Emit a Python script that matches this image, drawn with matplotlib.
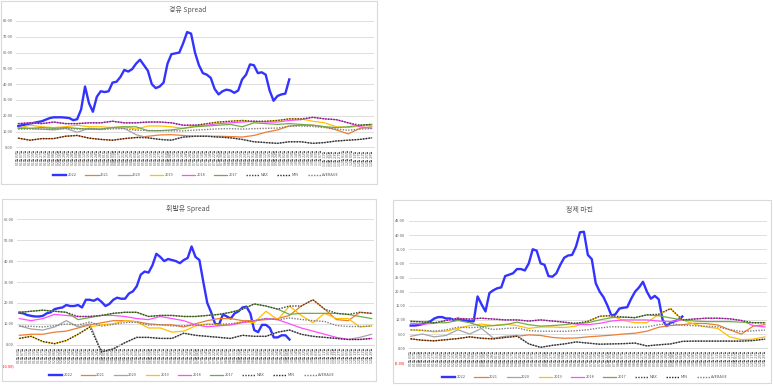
import numpy as np
import pandas as pd
import matplotlib
import matplotlib.pyplot as plt
from matplotlib.patches import Rectangle

matplotlib.use("Agg")
plt.rcParams['font.family'] = ['Noto Sans CJK KR', 'DejaVu Sans']

W, H = 773, 388

# category axis (dates, every 4 days)
dates = pd.date_range('2022-01-03', periods=91, freq='4D')
date_labels = [d.strftime('%m월 %d일') for d in dates]

years = ['2022', '2021', '2020', '2019', '2018', '2017']
year_colors = ['#3333FF', '#ED7D31', '#A5A5A5', '#FFC000', '#FF4DFF', '#70AD47']
stat_names = ['MAX', 'MIN', 'AVERAGE']
stat_colors = ['#404040', '#262626', '#7F7F7F']

# ---- 경유 Spread ----
diesel_2022 = [13.5, 14, 14.5, 15, 15.5, 16, 16.5, 17.5, 18.5, 19,
               19, 19, 18.8, 18.5, 17.2, 17.8, 24, 38.5, 28, 22.5,
               32, 35.5, 35, 35.5, 41, 41.5, 44.5, 49, 48, 49.5,
               53, 55.5, 52, 48.5, 40, 37.5, 38.5, 41, 53, 59,
               59.5, 60, 66, 73, 72, 60, 52, 47, 46, 44,
               37, 33.5, 35.5, 36.5, 36, 34.5, 36, 43, 46, 52.5,
               52, 47, 47.5, 46, 36, 29.5, 32.5, 33.5, 34, 43]
diesel_2021 = [5.8, 4.5, 5.5, 5.5, 7, 7.5, 5.8, 5, 4.5, 5.5, 6.2, 7, 7.8, 8, 7.5, 7,
               7, 7, 6.8, 6.5, 7.5, 9.5, 11, 13.5, 14, 14, 13, 11, 8.5, 12, 13]
diesel_2020 = [12.5, 12, 11.5, 11, 12, 9.5, 12, 11.5, 12.5, 12, 8, 6, 5, 4.5, 6.5, 7,
               7, 6.5, 6, 5, 3.5, 3, 2.5, 3.5, 3.5, 2.5, 3, 4, 4.5, 5, 6]
diesel_2019 = [12, 14, 13, 12.5, 13, 14, 13, 13, 12.5, 13, 11.5, 13.5, 13.5, 13, 12, 13.5,
               15, 16, 16.5, 17, 16, 16.5, 17, 18, 18, 16.5, 15.5, 13, 12.5, 13.5, 14]
diesel_2018 = [15, 15.5, 15, 16, 15, 15, 15.5, 15.5, 16.5, 15.5, 15.5, 16, 16, 15.5, 14, 14,
               14, 15, 15.5, 16, 16.5, 16, 16, 17, 17.5, 19, 18, 17.5, 15.5, 13, 12]
diesel_2017 = [12, 12, 12.5, 12, 12.5, 12, 11.5, 11.5, 12.5, 13, 13, 10.5, 10.5, 11, 12, 13,
               13.5, 14, 14.5, 13, 15.5, 15, 14.5, 15, 14.5, 14, 13, 12.5, 13, 14, 14.5]

# ---- 휘발유 Spread ----
gasoline_2022 = [15.3, 15, 14.2, 13.8, 13.5, 13.5, 13.8, 15, 15.5, 17,
                 17.5, 17.8, 19, 18.5, 18.5, 19, 17.8, 21.5, 21.5, 21,
                 22, 20.5, 18.5, 19.5, 21.5, 22.5, 22, 22, 24.5, 25.5,
                 28, 33.5, 35, 34.5, 38, 43.5, 42, 40, 41, 40.5,
                 40, 39, 40.5, 41.5, 47, 42, 40.5, 30, 20, 15.5,
                 10, 9.5, 14.5, 13.5, 12.5, 15, 16, 17.8, 18.2, 15,
                 7, 6, 9.5, 9.5, 8, 3.5, 3.5, 4.5, 4.5, 2.5]
gasoline_2021 = [4.5, 5, 5, 6, 6.5, 8, 9.5, 10.5, 11.5, 11.5, 11, 10, 9.5, 9.5, 8.5, 10,
                 11.5, 12.5, 12.5, 11.5, 11.5, 12, 12.5, 14, 18.5, 21.5, 17, 12, 11.5, 15.5, 15]
gasoline_2020 = [9, 7.5, 7, 8.5, 11.5, 8.5, 10, -3.5, -2, 1, 3.5, 3.5, 3, 3, 5.5, 4.5,
                 4, 3.5, 3, 4.5, 4, 4, 6, 7, 5, 4, 3.5, 3, 2.5, 3.5, 5]
gasoline_2019 = [3, 4, 1.5, 0.5, 2, 5, 8.5, 9.5, 10, 11.5, 11, 8, 8, 6, 6.5, 9,
                 10, 9.5, 9.5, 11, 10.5, 16, 12, 18.5, 14, 10.5, 15, 12.5, 12.5, 8.5, 9]
gasoline_2018 = [12.5, 11.5, 12.5, 14.5, 14, 13.5, 13.5, 14, 14, 13.5, 12.5, 12, 13.5, 12.5, 11.5, 9.5,
                 8.6, 9, 9.5, 10.5, 11.5, 12.5, 12, 10, 8, 6.5, 5, 3.5, 2.5, 2.5, 3]
gasoline_2017 = [15.5, 16, 16.5, 16, 15.5, 12, 13, 14, 15, 15.5, 15.5, 13.5, 14, 14, 13.5, 13.5,
                 14, 14.5, 15.5, 17, 19.5, 18.5, 17, 14.5, 15, 15, 15, 15, 14.5, 13.5, 12.5]

# ---- 정제 마진 ----
margin_2022 = [8, 8, 8.2, 8.5, 9, 9.5, 10.5, 11, 11, 10.5,
               10.5, 10, 10.5, 10, 9.8, 9.5, 9.5, 18.3, 15.5, 13,
               19.5, 20.5, 21.2, 21.5, 25.5, 26, 26.5, 28, 28, 27.5,
               30, 35, 34.5, 30, 29.5, 25.5, 25.3, 26.5, 29.5, 32,
               32.8, 33, 36, 41, 41.2, 33, 31.5, 23, 20, 18,
               15, 11.5, 12, 14, 14.3, 14.5, 17.5, 20, 21.5, 23.5,
               20, 17.5, 18.5, 17.3, 10, 7.8, 9, 9.5, 10, 11.2]
margin_2021 = [3.3, 2.8, 2.6, 3, 3.4, 4, 3.5, 3.3, 3.8, 4.2, 4.7, 4.5, 3.8, 3.5, 3.6, 4,
               4.3, 4.6, 5, 5.3, 6, 7.4, 8, 8.3, 8.8, 8.7, 8.2, 6.5, 5, 7.8, 8.3]
margin_2020 = [4.2, 5, 4, 4.5, 6.5, 5, 7, 3.5, 4.2, 4.5, 1.5, 0.3, 1, 1.5, 2.2, 1.8,
               1.4, 1.5, 1.6, 1.8, 0.8, 1.2, 1.5, 2.4, 2.5, 2.5, 2.5, 2.5, 2.5, 2.7, 3.2]
margin_2019 = [6.5, 6.2, 5.8, 6, 7, 8, 8.5, 8, 8.5, 8, 7, 7.5, 7.5, 7.3, 7.8, 9.5,
               11.3, 11.5, 9.8, 9, 9, 12, 14, 10, 8.5, 7.5, 7, 4, 3, 3.2, 4]
margin_2018 = [8.8, 8.5, 8.8, 9.8, 10.5, 10.3, 10.6, 10.3, 10, 10, 9.6, 10, 9.6, 9.2, 8.5, 8.3,
               8.8, 9.6, 10, 10, 10, 9.6, 9.4, 10, 10.3, 10.6, 10.6, 10.4, 9.8, 8, 7.5]
margin_2017 = [9.5, 9.3, 9, 9, 9.8, 9, 7.7, 8, 8.3, 9.2, 8.3, 7.8, 8, 8.3, 8.8, 9,
               10, 10.8, 11, 10.8, 11.8, 11.5, 10.7, 10, 9.6, 9.4, 9.4, 9.4, 9.2, 9, 9]

STEP = 3  # past years are read every 3rd category


def frame(fig, x0, y0, x1, y1):
    fig.patches.append(Rectangle((x0 / W, 1 - y1 / H), (x1 - x0) / W, (y1 - y0) / H,
                                 transform=fig.transFigure, fill=False,
                                 ec='#D9D9D9', lw=0.8))


def chart(fig, axpx, title, title_xy, legend_xy, cur, past, ymin, ymax, ystep):
    x0, x1, yt, yb = axpx
    ax = fig.add_axes([x0 / W, 1 - yb / H, (x1 - x0) / W, (yb - yt) / H])
    for s in ['top', 'right', 'left']:
        ax.spines[s].set_visible(False)
    ax.spines['bottom'].set_position(('data', 0))
    ax.spines['bottom'].set_color('#D9D9D9')
    ax.spines['bottom'].set_linewidth(0.6)

    handles = []
    h, = ax.plot(np.arange(len(cur)), cur, color=year_colors[0], lw=1.7)
    handles.append(h)
    xp = np.arange(len(past[0])) * STEP
    for v, c in zip(past, year_colors[1:]):
        h, = ax.plot(xp, v, color=c, lw=0.9)
        handles.append(h)
    arr = np.array(past)
    stats = [arr.max(axis=0), arr.min(axis=0), arr.mean(axis=0)]
    for v, c in zip(stats, stat_colors):
        h, = ax.plot(xp, v, color=c, lw=1.0, ls=(0, (1, 1)))
        handles.append(h)

    ax.set_xlim(-0.5, 90.5)
    ax.set_ylim(ymin, ymax)
    ticks = np.arange(ymin, ymax + ystep / 2, ystep)
    ax.set_yticks(ticks)
    labs = [('(%.2f)' % abs(t)) if t < 0 else ('%.2f' % t) for t in ticks]
    ax.set_yticklabels(labs)
    for t, lab in zip(ticks, ax.get_yticklabels()):
        lab.set_color('#FF0000' if t < 0 else '#595959')
    ax.set_xticks(np.arange(91))
    ax.set_xticklabels(date_labels)
    ax.tick_params(axis='y', length=0, labelsize=2.8, pad=2.5)
    ax.tick_params(axis='x', length=0, labelsize=2.6, pad=2, colors='#595959',
                   labelrotation=90)
    ax.yaxis.grid(True, color='#D9D9D9', lw=0.6)
    ax.set_axisbelow(True)
    ax.patch.set_alpha(0)

    fig.text(title_xy[0] / W, 1 - title_xy[1] / H, title, ha='center', va='center',
             fontsize=5, color='#595959')
    leg = fig.legend(handles, years + stat_names, loc='center',
                     bbox_to_anchor=(legend_xy[0] / W, 1 - legend_xy[1] / H),
                     ncol=9, fontsize=2.8, frameon=False, handlelength=3.4,
                     columnspacing=2.2, handletextpad=0.4, borderpad=0)
    for t in leg.get_texts():
        t.set_color('#595959')
    return ax


fig = plt.figure(figsize=(W / 100, H / 100), dpi=100)
fig.patch.set_facecolor('white')

frame(fig, 1, 1, 377, 184)
frame(fig, 2, 199, 376, 381)
frame(fig, 393, 200, 771, 383)

chart(fig, (16.3, 373.7, 21, 147.3), '경유 Spread', (188, 10), (196, 175),
      diesel_2022, [diesel_2021, diesel_2020, diesel_2019, diesel_2018, diesel_2017],
      0, 80, 10)
chart(fig, (17.4, 373.6, 219.3, 365.6), '휘발유 Spread', (188, 209), (192, 375),
      gasoline_2022, [gasoline_2021, gasoline_2020, gasoline_2019, gasoline_2018, gasoline_2017],
      -10, 60, 10)
chart(fig, (408.7, 767, 221, 362.3), '정제 마진', (580, 210), (585, 377),
      margin_2022, [margin_2021, margin_2020, margin_2019, margin_2018, margin_2017],
      -5, 45, 5)

fig.savefig('out.png', dpi=100)
